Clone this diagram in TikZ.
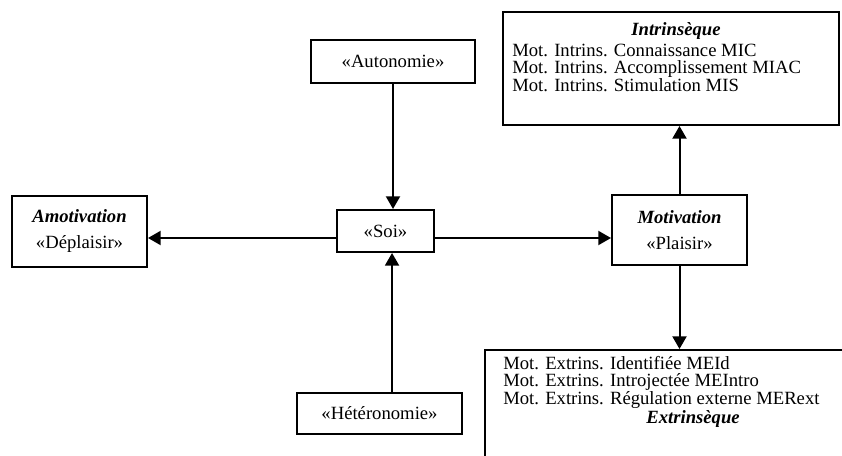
\documentclass[tikz,border=0pt]{standalone}
\usepackage{fontspec}
\setmainfont{Liberation Serif}
\usepackage{xcolor}
\usetikzlibrary{arrows.meta}

\tikzset{
  boite/.style={draw, line width=1.5pt, inner sep=0pt, align=center, font=\fontsize{14}{19.5}\selectfont},
  texte/.style={inner sep=0pt, font=\fontsize{14}{13}\selectfont},
  fleche/.style={line width=1.5pt, -{Triangle[length=9.5pt,width=10.5pt]}},
}

\begin{document}
\begin{tikzpicture}[x=0.75pt,y=0.75pt,yscale=-1,xscale=1]
\useasboundingbox (0,0) rectangle (842,456);

%Shape: Rectangle [Autonomie]
\node [boite, minimum width=123pt, minimum height=32.25pt] (auto) at (393,61.5) {«Autonomie»};
%Shape: Rectangle [Soi]
\node [boite, minimum width=72.75pt, minimum height=31.5pt] (soi) at (385.5,231) {«Soi»};
%Shape: Rectangle [Heteronomie]
\node [boite, minimum width=123.75pt, minimum height=30.75pt] (hetero) at (379.5,413.5) {«Hétéronomie»};
%Shape: Rectangle [Amotivation]
\node [boite, minimum width=101.25pt, minimum height=53.25pt] (amot) at (79.5,231.5) {\textbf{\textit{Amotivation}}\\«Déplaisir»};
%Shape: Rectangle [Motivation]
\node [boite, minimum width=101.25pt, minimum height=52.5pt] (moti) at (679.5,230) {\textbf{\textit{Motivation}}\\«Plaisir»};
%Shape: Rectangle [Intrinseque]
\node [boite, minimum width=252pt, minimum height=84.75pt] (intr) at (671,68.5) {};
%Shape: Rectangle [Extrinseque]
\node [boite, minimum width=273.75pt, minimum height=90pt] (extr) at (667.5,410) {};

% Text Node
\node [texte] (intrtitre) at (676,31) {\textbf{\textit{Intrinsèque}}};
% Text Node
\node [texte, anchor=north west, align=left] (intrliste) at (512,44) {Mot. Intrins. Connaissance MIC\\Mot. Intrins. Accomplissement MIAC\\Mot. Intrins. Stimulation MIS};
% Text Node
\node [texte, anchor=north west, align=left] (extrliste) at (503,356) {Mot. Extrins. Identifiée MEId\\Mot. Extrins. Introjectée MEIntro\\Mot. Extrins. Régulation externe MERext};
% Text Node
\node [texte] (extrtitre) at (693,419) {\textbf{\textit{Extrinsèque}}};

%Straight Lines [Autonomie -> Soi]
\draw [fleche] (auto.south) -- (auto.south |- soi.north);
%Straight Lines [Heteronomie -> Soi]
\draw [fleche] ([xshift=9.4pt]hetero.north) -- ([xshift=9.4pt]hetero.north |- soi.south);
%Straight Lines [Soi -> Amotivation]
\draw [fleche] ([yshift=5.25pt]soi.west) -- ([yshift=5.25pt]soi.west -| amot.east);
%Straight Lines [Soi -> Motivation]
\draw [fleche] ([yshift=5.25pt]soi.east) -- ([yshift=5.25pt]soi.east -| moti.west);
%Straight Lines [Motivation -> Intrinseque]
\draw [fleche] (moti.north) -- (moti.north |- intr.south);
%Straight Lines [Motivation -> Extrinseque]
\draw [fleche] (moti.south) -- (moti.south |- extr.north);

\end{tikzpicture}
\end{document}
